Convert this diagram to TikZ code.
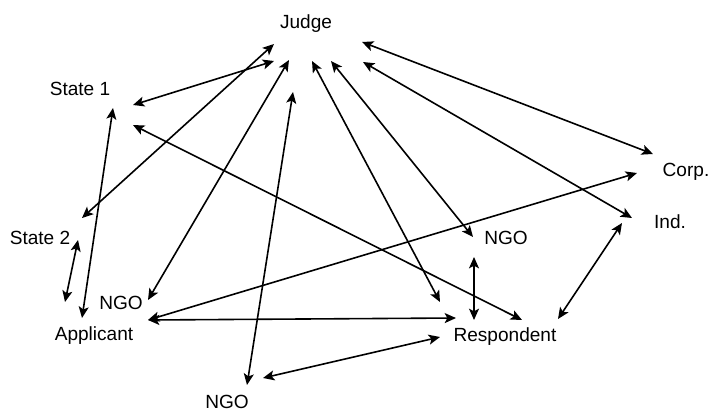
\documentclass[tikz,border=0pt]{standalone}
\usepackage{fontspec}
\setmainfont{Liberation Sans}
\usepackage{xcolor}
\usepackage{tikz}
\usetikzlibrary{arrows.meta}

\begin{document}
\begin{tikzpicture}[x=0.75pt, y=-0.75pt,
	party/.style={inner sep=0pt, font=\fontsize{14.3}{16}\selectfont},
	link/.style={line width=1.2pt, {Stealth[length=8.5pt,width=7.5pt,inset=2pt]}-{Stealth[length=8.5pt,width=7.5pt,inset=2pt]}}]
		\useasboundingbox (0,0) rectangle (710,411);
		% parties
		\node[party] (judge) at (306,24) {Judge};
		\node[party] (stateone) at (80,89) {State 1};
		\node[party] (statetwo) at (40,238) {State 2};
		\node[party] (ngoleft) at (121,303) {NGO};
		\node[party] (applicant) at (94,336) {Applicant};
		\node[party] (ngobottom) at (227,402) {NGO};
		\node[party] (ngoright) at (506,238) {NGO};
		\node[party] (respondent) at (505,337) {Respondent};
		\node[party] (corp) at (686,172) {Corp.};
		\node[party] (ind) at (670,222) {Ind.};
		% relations
		\draw[link] ([shift={(53,16)}]stateone.center) -- ([shift={(-32,37)}]judge.center);
		\draw[link] ([shift={(42,-20)}]statetwo.center) -- ([shift={(-32,20)}]judge.center);
		\draw[link] ([shift={(38,2)}]statetwo.center) -- ([shift={(-29,-34)}]applicant.center);
		\draw[link] ([shift={(33,19)}]stateone.center) -- ([shift={(-12,-18)}]applicant.center);
		\draw[link] ([shift={(27,-3)}]ngoleft.center) -- ([shift={(-17,36)}]judge.center);
		\draw[link] ([shift={(20,-17)}]ngobottom.center) -- ([shift={(-13,68)}]judge.center);
		\draw[link] ([shift={(36,-24)}]ngobottom.center) -- ([shift={(-65,0)}]respondent.center);
		\draw[link] ([shift={(54,-16)}]applicant.center) -- ([shift={(-49,-19)}]respondent.center);
		\draw[link] ([shift={(54,-16)}]applicant.center) -- ([shift={(-49,1)}]corp.center);
		\draw[link] ([shift={(6,37)}]judge.center) -- ([shift={(-65,-35)}]respondent.center);
		\draw[link] ([shift={(25,37)}]judge.center) -- ([shift={(-33,-1)}]ngoright.center);
		\draw[link] ([shift={(56,18)}]judge.center) -- ([shift={(-33,-18)}]corp.center);
		\draw[link] ([shift={(57,38)}]judge.center) -- ([shift={(-38,-4)}]ind.center);
		\draw[link] ([shift={(53,36)}]stateone.center) -- ([shift={(17,-17)}]respondent.center);
		\draw[link] ([shift={(-32,19)}]ngoright.center) -- ([shift={(-31,-17)}]respondent.center);
		\draw[link] ([shift={(-48,1)}]ind.center) -- ([shift={(53,-18)}]respondent.center);
	\end{tikzpicture}
\end{document}
